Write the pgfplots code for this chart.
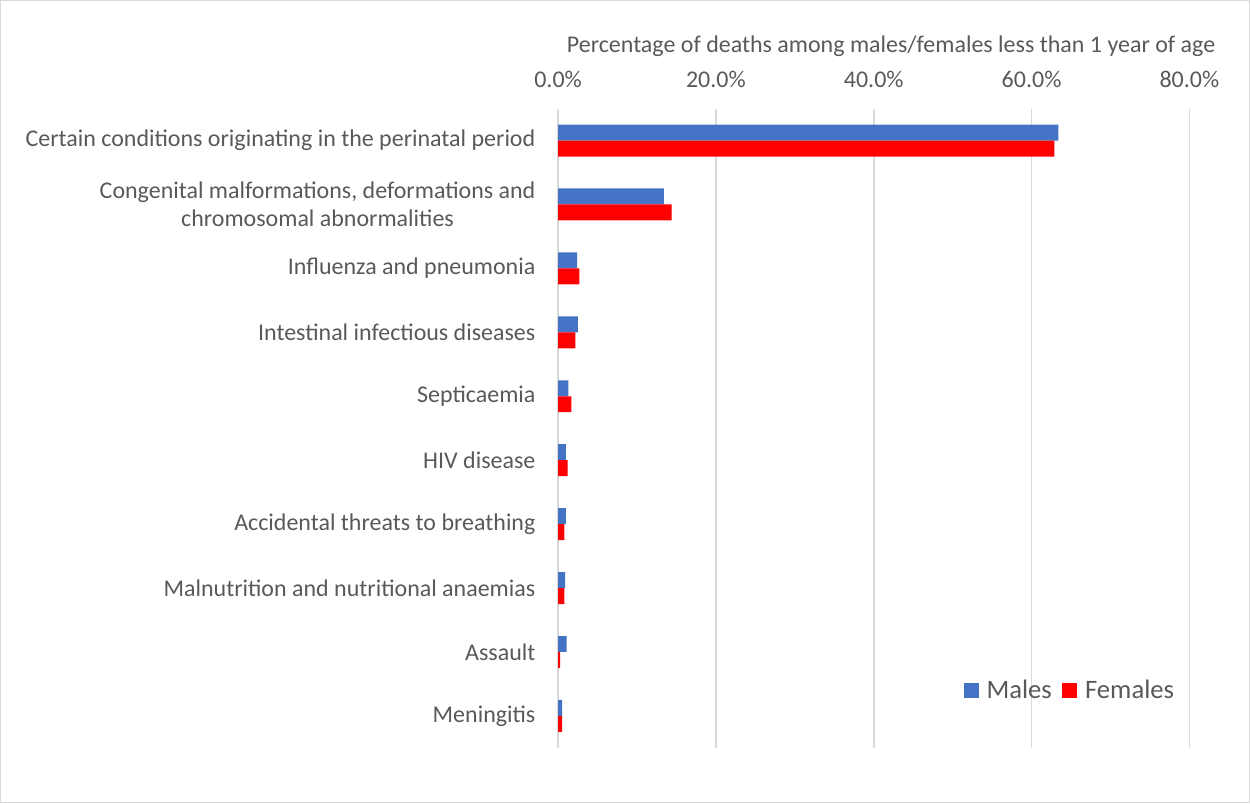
\documentclass[border=0pt]{standalone}
\usepackage{pgfplots}
\pgfplotsset{compat=1.18}
\usepackage{fontspec}
\setmainfont{Carlito}
\definecolor{males}{HTML}{4472C4}
\definecolor{females}{HTML}{FF0000}
\definecolor{txt}{HTML}{595959}
\definecolor{gridc}{HTML}{D9D9D9}
\begin{document}
\begin{tikzpicture}
\draw[gridc, line width=1pt] (-418.5pt,-41.25pt) rectangle (519pt,561pt);
\begin{axis}[
    at={(0,0)}, anchor=south west,
    scale only axis,
    width=474pt, height=480pt,
    xbar, bar width=12pt,
    xmin=0, xmax=80,
    ymin=-0.5, ymax=9.5,
    y dir=reverse,
    axis line style={draw=none},
    xtick={0,20,40,60,80},
    xticklabels={0.0\%,20.0\%,40.0\%,60.0\%,80.0\%},
    xticklabel pos=upper,
    xmajorgrids,
    major grid style={gridc, line width=1.3pt},
    major tick length=0pt,
    ytick={0,...,9},
    yticklabels={
        Certain conditions originating in the perinatal period,
        {Congenital malformations, deformations and\\chromosomal abnormalities},
        Influenza and pneumonia,
        Intestinal infectious diseases,
        Septicaemia,
        HIV disease,
        Accidental threats to breathing,
        Malnutrition and nutritional anaemias,
        Assault,
        Meningitis},
    yticklabel style={align=center, font=\fontsize{18}{21}\selectfont, text=txt, xshift=-13.5pt},
    xticklabel style={font=\fontsize{18}{21}\selectfont, text=txt, yshift=12pt},
    ytick style={draw=none},
    xtick style={draw=none},
    xlabel={Percentage of deaths among males/females less than 1 year of age},
    xlabel style={font=\fontsize{18}{21}\selectfont, text=txt, xshift=13pt, yshift=4pt},
    legend style={draw=none, fill=none, at={(rel axis cs:0.636,0.09)}, anchor=west,
        font=\fontsize{20}{24}\selectfont, text=txt, legend columns=2,
        /tikz/every odd column/.append style={column sep=4pt},
        /tikz/every even column/.append style={column sep=6pt}},
    legend image code/.code={\fill[#1] (0pt,-5.5pt) rectangle (11pt,5.5pt);},
]
\addplot[fill=males, draw=none, bar shift=6pt] coordinates {
    (63.4,0) (13.4,1) (2.4,2) (2.5,3) (1.3,4) (1.0,5) (1.0,6) (0.9,7) (1.1,8) (0.5,9)
};
\addlegendentry{Males}
\addplot[fill=females, draw=none, bar shift=-6pt] coordinates {
    (62.9,0) (14.4,1) (2.7,2) (2.2,3) (1.7,4) (1.2,5) (0.8,6) (0.8,7) (0.25,8) (0.5,9)
};
\addlegendentry{Females}
\end{axis}
\end{tikzpicture}
\end{document}
